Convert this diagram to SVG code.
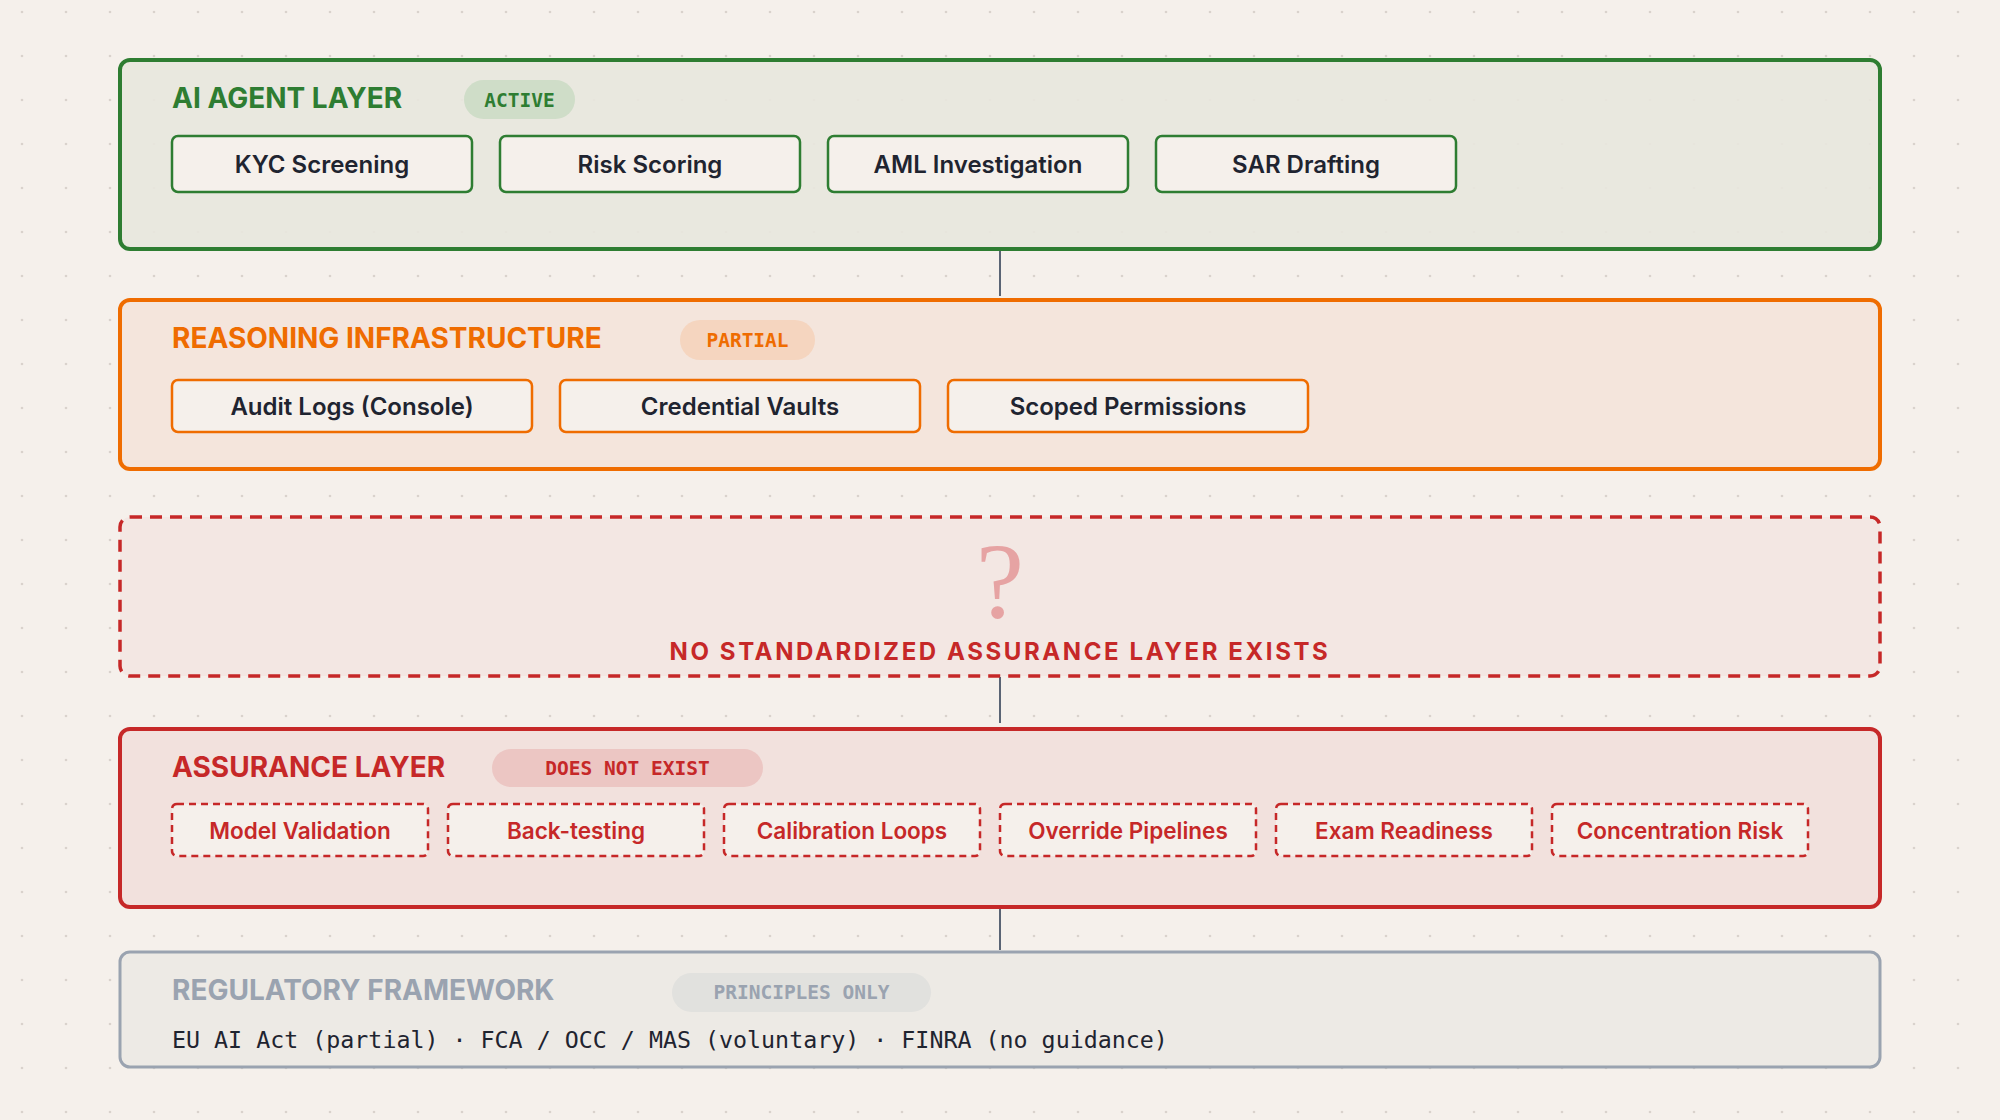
<svg xmlns="http://www.w3.org/2000/svg" width="2000" height="1120" viewBox="0 0 2000 1120">
<defs>
<pattern id="dots" width="44" height="44" patternUnits="userSpaceOnUse" x="20" y="10"><circle cx="2" cy="2" r="1.3" fill="#d9d2cc"/></pattern>
<style>
.t{font-family:Inter,"Liberation Sans",sans-serif;font-weight:700;font-size:28px;letter-spacing:0px}
.pill{font-family:"DejaVu Sans Mono","Liberation Mono",monospace;font-weight:700;font-size:19.5px;text-anchor:middle}
.b{font-family:Inter,"Liberation Sans",sans-serif;font-weight:600;font-size:24px;text-anchor:middle;fill:#1f2430}
.r{font-family:Inter,"Liberation Sans",sans-serif;font-weight:600;font-size:22.5px;text-anchor:middle;fill:#c62828}
.sub{fill:#f5f0eb;stroke-width:2.5}
</style>
</defs>
<rect width="2000" height="1120" fill="#f5f0eb"/>
<rect width="2000" height="1120" fill="url(#dots)"/>
<g id="connectors" stroke="#5a6474" stroke-width="2">
<line x1="1000" y1="250" x2="1000" y2="296"/>
<line x1="1000" y1="677" x2="1000" y2="723"/>
<line x1="1000" y1="908" x2="1000" y2="950"/>
</g>
<g id="agent">
<rect x="120" y="60" width="1760" height="189" rx="10" fill="#e8e7de" fill-opacity="0.9" stroke="#2e7d32" stroke-width="4"/>
<text x="172" y="108" class="t" fill="#2e7d32">AI AGENT LAYER</text>
<rect x="464" y="80" width="111" height="39" rx="19.5" fill="#cfddc8"/>
<text x="519.5" y="107" class="pill" fill="#2e7d32">ACTIVE</text>
<g stroke="#2e7d32"><rect class="sub" x="172" y="136" width="300" height="56" rx="6"/><rect class="sub" x="500" y="136" width="300" height="56" rx="6"/><rect class="sub" x="828" y="136" width="300" height="56" rx="6"/><rect class="sub" x="1156" y="136" width="300" height="56" rx="6"/></g>
<text x="322" y="173" class="b">KYC Screening</text><text x="650" y="173" class="b">Risk Scoring</text><text x="978" y="173" class="b">AML Investigation</text><text x="1306" y="173" class="b">SAR Drafting</text>
</g>
<g id="reasoning">
<rect x="120" y="300" width="1760" height="169" rx="10" fill="#f4e5dc" stroke="#ef6c00" stroke-width="4"/>
<text x="172" y="348" class="t" fill="#ef6c00">REASONING INFRASTRUCTURE</text>
<rect x="680" y="320" width="135" height="40" rx="20" fill="#f5d5bf"/>
<text x="747.5" y="347" class="pill" fill="#ef6c00">PARTIAL</text>
<g stroke="#ef6c00"><rect class="sub" x="172" y="380" width="360" height="52" rx="6"/><rect class="sub" x="560" y="380" width="360" height="52" rx="6"/><rect class="sub" x="948" y="380" width="360" height="52" rx="6"/></g>
<text x="352" y="415" class="b">Audit Logs (Console)</text><text x="740" y="415" class="b">Credential Vaults</text><text x="1128" y="415" class="b">Scoped Permissions</text>
</g>
<g id="gap">
<rect x="120" y="517" width="1760" height="159" rx="10" fill="#f3e7e3" stroke="#c62828" stroke-width="3.5" stroke-dasharray="12 8"/>
<text x="1000" y="617" font-family="'Liberation Serif',serif" font-size="108" text-anchor="middle" fill="#e6a3a3">?</text>
<text x="1000" y="660" font-family="Inter,'Liberation Sans',sans-serif" font-weight="700" font-size="24" letter-spacing="2.6" text-anchor="middle" fill="#c62828">NO STANDARDIZED ASSURANCE LAYER EXISTS</text>
</g>
<g id="assurance">
<rect x="120" y="729" width="1760" height="178" rx="10" fill="#f2e1dd" stroke="#c62828" stroke-width="4"/>
<text x="172" y="777" class="t" fill="#c62828">ASSURANCE LAYER</text>
<rect x="492" y="749" width="271" height="38" rx="19" fill="#ecc6c3"/>
<text x="627.5" y="775" class="pill" fill="#c62828">DOES NOT EXIST</text>
<g stroke="#c62828" stroke-dasharray="7 5"><rect class="sub" x="172" y="804" width="256" height="52" rx="5" fill="#f1dedb"/><rect class="sub" x="448" y="804" width="256" height="52" rx="5" fill="#f1dedb"/><rect class="sub" x="724" y="804" width="256" height="52" rx="5" fill="#f1dedb"/><rect class="sub" x="1000" y="804" width="256" height="52" rx="5" fill="#f1dedb"/><rect class="sub" x="1276" y="804" width="256" height="52" rx="5" fill="#f1dedb"/><rect class="sub" x="1552" y="804" width="256" height="52" rx="5" fill="#f1dedb"/></g>
<text x="300" y="839" class="r">Model Validation</text><text x="576" y="839" class="r">Back-testing</text><text x="852" y="839" class="r">Calibration Loops</text><text x="1128" y="839" class="r">Override Pipelines</text><text x="1404" y="839" class="r">Exam Readiness</text><text x="1680" y="839" class="r">Concentration Risk</text>
</g>
<g id="regulatory">
<rect x="120" y="952" width="1760" height="115" rx="10" fill="#edeae5" stroke="#9aa3b0" stroke-width="3"/>
<text x="172" y="1000" class="t" fill="#9aa3b0">REGULATORY FRAMEWORK</text>
<rect x="672" y="973" width="259" height="39" rx="19.5" fill="#e1e1de"/>
<text x="801.5" y="999" class="pill" fill="#9aa3b0">PRINCIPLES ONLY</text>
<text x="172" y="1048" font-family="'DejaVu Sans Mono','Liberation Mono',monospace" font-size="23.3" fill="#1f2430">EU AI Act (partial) · FCA / OCC / MAS (voluntary) · FINRA (no guidance)</text>
</g>
</svg>
